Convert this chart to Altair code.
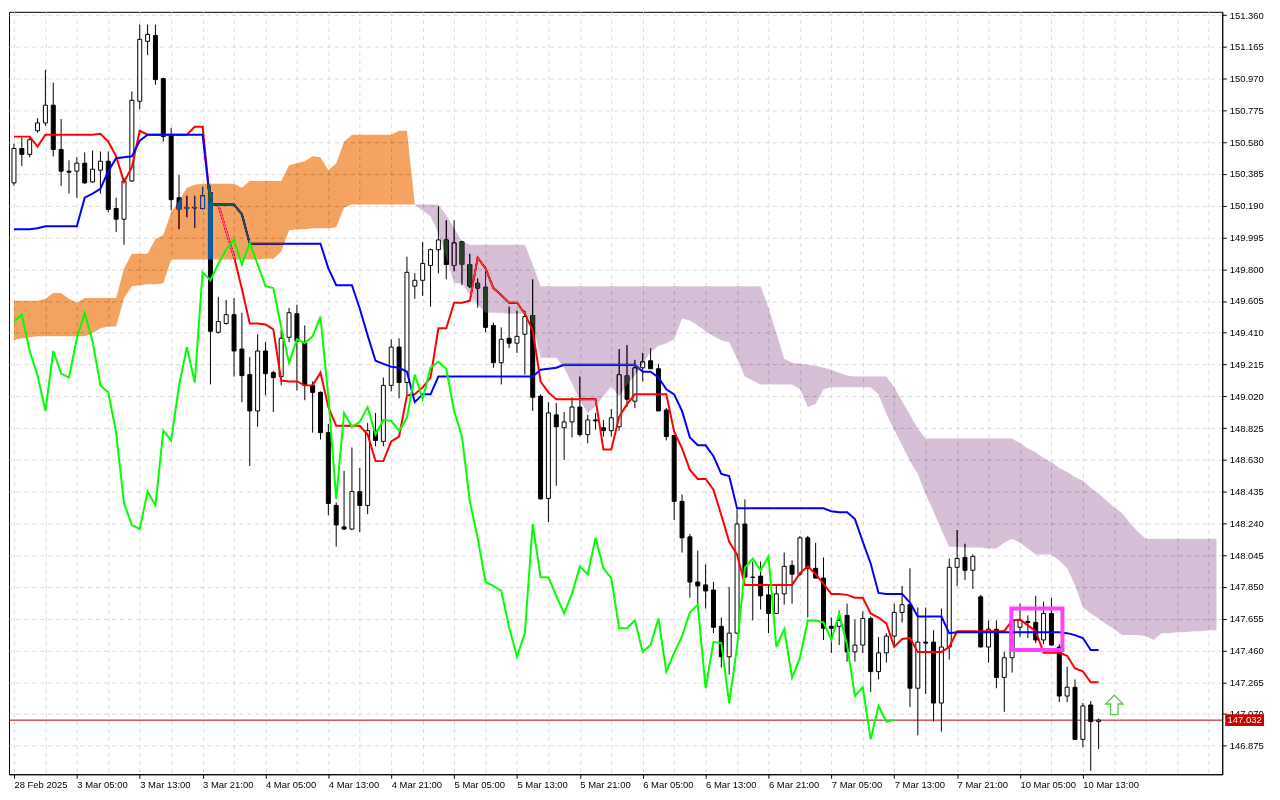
import json
import altair as alt
import pandas as pd

# ---------------- data ----------------
time_labels = ["28 Feb 2025", "3 Mar 05:00", "3 Mar 13:00", "3 Mar 21:00", "4 Mar 05:00",
               "4 Mar 13:00", "4 Mar 21:00", "5 Mar 05:00", "5 Mar 13:00", "5 Mar 21:00",
               "6 Mar 05:00", "6 Mar 13:00", "6 Mar 21:00", "7 Mar 05:00", "7 Mar 13:00",
               "7 Mar 21:00", "10 Mar 05:00", "10 Mar 13:00"]

price_ticks = [146.875, 147.070, 147.265, 147.460, 147.655, 147.850, 148.045, 148.240,
               148.435, 148.630, 148.825, 149.020, 149.215, 149.410, 149.605, 149.800,
               149.995, 150.190, 150.385, 150.580, 150.775, 150.970, 151.165, 151.360]

opens = [150.330,150.541,150.505,150.650,150.698,150.807,150.535,150.402,150.402,150.451,
 150.336,150.408,150.463,150.173,150.107,150.342,150.831,151.199,151.235,150.970,
 150.626,150.239,150.179,150.179,150.173,150.270,149.413,149.467,149.521,149.310,
 149.153,148.930,149.298,149.165,149.141,149.382,149.527,149.346,149.087,149.044,
 148.797,148.350,148.218,148.205,148.435,148.350,148.809,148.743,149.087,149.322,
 149.105,149.696,149.732,149.823,149.920,149.980,149.823,149.968,149.829,149.714,
 149.690,149.455,149.226,149.376,149.346,149.401,149.515,149.020,148.393,148.906,
 148.827,148.863,148.954,148.785,148.875,148.827,148.809,148.833,149.147,148.990,
 149.195,149.238,149.189,148.936,148.779,148.375,148.157,147.880,147.862,147.831,
 147.608,147.421,147.566,148.236,147.910,147.916,147.801,147.687,147.807,147.982,
 147.928,148.151,147.964,147.904,147.608,147.608,147.675,147.451,147.493,147.656,
 147.330,147.445,147.548,147.693,147.741,147.228,147.511,147.511,147.137,147.481,
 147.970,148.031,147.952,147.789,147.481,147.590,147.294,147.415,147.602,147.638,
 147.632,147.524,147.687,147.481,147.180,147.234,146.914,147.125,147.023]

highs = [150.571,150.608,150.614,150.728,151.024,150.945,150.722,150.469,150.487,150.517,
 150.529,150.523,150.523,150.239,150.360,150.891,151.302,151.302,151.302,150.976,
 150.668,150.378,150.251,150.251,150.306,150.312,149.630,149.612,149.624,149.533,
 149.262,149.401,149.352,149.177,149.425,149.563,149.582,149.455,149.111,149.050,
 148.851,148.368,148.562,148.706,148.580,148.857,148.918,149.135,149.370,149.376,
 149.877,149.775,149.968,149.926,150.185,150.101,150.101,149.974,149.895,149.744,
 149.817,149.473,149.443,149.570,149.545,149.545,149.738,149.032,148.984,148.978,
 148.924,149.014,149.141,148.906,148.918,148.875,148.942,149.310,149.334,149.244,
 149.286,149.316,149.219,148.948,148.785,148.417,148.175,148.073,147.988,147.880,
 147.662,147.850,148.326,148.387,148.006,148.006,147.856,147.862,148.061,148.012,
 148.163,148.163,148.121,148.031,147.662,147.705,147.747,147.650,147.699,147.668,
 147.542,147.566,147.747,147.856,147.964,147.723,147.723,147.584,147.717,148.024,
 148.199,148.115,148.049,147.801,147.644,147.644,147.451,147.650,147.747,147.675,
 147.795,147.759,147.783,147.499,147.361,147.282,147.137,147.149,147.041]

lows = [150.312,150.433,150.487,150.638,150.680,150.493,150.312,150.264,150.239,150.324,
 150.330,150.264,150.149,150.028,149.950,150.335,150.783,151.114,150.933,150.583,
 150.161,150.046,150.119,150.052,150.167,149.093,149.405,149.460,149.141,148.984,
 148.592,148.833,149.026,148.924,149.087,149.352,149.056,148.996,148.797,148.755,
 148.290,148.097,148.199,148.199,148.187,148.296,148.713,148.713,149.050,149.008,
 149.032,149.618,149.636,149.570,149.775,149.738,149.787,149.702,149.684,149.564,
 149.413,149.195,149.093,149.316,149.286,149.153,148.930,148.387,148.248,148.471,
 148.628,148.767,148.773,148.731,148.815,148.773,148.773,148.809,148.954,148.948,
 149.111,149.189,148.930,148.749,148.260,148.061,147.783,147.747,147.717,147.566,
 147.355,147.312,147.560,147.905,147.644,147.711,147.566,147.683,147.741,147.747,
 147.916,147.662,147.904,147.524,147.445,147.493,147.391,147.391,147.445,147.204,
 147.282,147.385,147.493,147.632,147.113,146.938,147.192,147.023,146.962,147.403,
 147.856,147.892,147.837,147.478,147.385,147.228,147.083,147.324,147.542,147.536,
 147.505,147.499,147.487,147.143,147.143,146.910,146.866,146.721,146.854]

closes = [150.541,150.505,150.595,150.698,150.807,150.535,150.402,150.396,150.451,150.330,
 150.414,150.463,150.167,150.107,150.342,150.837,151.211,151.241,150.964,150.614,
 150.227,150.167,150.173,150.176,150.251,149.419,149.479,149.521,149.298,149.147,
 148.930,149.298,149.159,149.135,149.376,149.533,149.358,149.087,149.044,148.797,
 148.362,148.230,148.205,148.435,148.350,148.809,148.749,149.087,149.322,149.105,
 149.781,149.732,149.835,149.920,149.980,149.829,149.962,149.829,149.696,149.684,
 149.443,149.226,149.370,149.346,149.388,149.509,149.014,148.390,148.918,148.833,
 148.863,148.954,148.785,148.875,148.869,148.809,148.888,149.153,149.002,149.195,
 149.232,149.189,148.930,148.773,148.375,148.151,147.880,147.856,147.825,147.602,
 147.421,147.566,148.236,147.910,147.908,147.795,147.687,147.807,147.976,147.928,
 148.151,147.964,147.904,147.596,147.596,147.644,147.451,147.493,147.656,147.330,
 147.445,147.548,147.693,147.741,147.228,147.511,147.505,147.137,147.481,147.970,
 148.024,147.952,148.037,147.481,147.590,147.294,147.415,147.644,147.644,147.632,
 147.524,147.687,147.493,147.180,147.234,146.914,147.119,147.023,147.032]

tenkan = [150.614,150.614,150.614,150.553,150.626,150.626,150.626,150.626,150.626,150.626,
 150.626,150.632,150.583,150.493,150.336,150.426,150.650,150.626,150.626,150.626,
 150.626,150.626,150.626,150.674,150.674,150.197,150.197,150.034,149.877,149.678,
 149.467,149.467,149.461,149.431,149.117,149.111,149.111,149.087,149.087,149.165,
 148.954,148.839,148.839,148.839,148.839,148.785,148.622,148.622,148.743,148.773,
 149.026,149.032,149.075,149.135,149.437,149.437,149.594,149.594,149.606,149.871,
 149.805,149.684,149.642,149.594,149.594,149.527,149.425,149.111,149.044,149.002,
 149.002,149.002,149.002,149.002,149.002,148.694,148.694,148.894,148.972,149.032,
 149.032,149.032,149.032,149.032,148.803,148.700,148.568,148.513,148.513,148.447,
 148.290,148.127,148.049,147.862,147.862,147.862,147.862,147.862,147.862,147.862,
 147.934,147.976,147.928,147.868,147.807,147.807,147.801,147.783,147.783,147.687,
 147.662,147.626,147.481,147.530,147.536,147.451,147.451,147.451,147.451,147.481,
 147.578,147.578,147.578,147.578,147.578,147.578,147.578,147.644,147.650,147.614,
 147.578,147.445,147.445,147.445,147.427,147.349,147.331,147.264,147.264]

kijun = [150.046,150.046,150.046,150.052,150.064,150.064,150.064,150.064,150.064,150.239,
 150.264,150.294,150.402,150.481,150.487,150.493,150.589,150.626,150.626,150.626,
 150.626,150.626,150.626,150.626,150.626,150.197,150.197,150.197,150.197,150.137,
 149.956,149.956,149.956,149.956,149.956,149.956,149.956,149.956,149.956,149.956,
 149.805,149.702,149.702,149.702,149.557,149.394,149.238,149.219,149.201,149.195,
 149.171,148.984,149.032,149.032,149.141,149.141,149.141,149.141,149.141,149.141,
 149.141,149.141,149.141,149.141,149.141,149.141,149.141,149.183,149.189,149.195,
 149.213,149.213,149.213,149.213,149.213,149.213,149.213,149.213,149.213,149.213,
 149.171,149.171,149.135,149.063,149.032,148.930,148.767,148.719,148.719,148.652,
 148.543,148.531,148.332,148.332,148.332,148.332,148.332,148.332,148.332,148.332,
 148.332,148.332,148.332,148.332,148.314,148.308,148.308,148.266,148.127,147.994,
 147.813,147.807,147.807,147.807,147.753,147.668,147.668,147.668,147.668,147.566,
 147.572,147.572,147.572,147.572,147.572,147.572,147.572,147.572,147.572,147.572,
 147.572,147.572,147.572,147.572,147.566,147.554,147.536,147.463,147.463]

# Kumo while Span A is above Span B (sandy brown), bars 0..51
up_kumo_top = [149.606,149.606,149.606,149.606,149.618,149.654,149.654,149.618,149.594,149.624,
 149.624,149.624,149.624,149.624,149.805,149.895,149.895,149.895,149.986,150.010,
 150.149,150.221,150.300,150.318,150.324,150.324,150.324,150.324,150.324,150.300,
 150.342,150.342,150.342,150.342,150.342,150.439,150.451,150.463,150.493,150.487,
 150.408,150.451,150.583,150.626,150.626,150.626,150.626,150.626,150.626,150.650,
 150.650,150.197]
up_kumo_bottom = [149.364,149.376,149.382,149.388,149.388,149.388,149.388,149.388,149.388,149.388,
 149.407,149.437,149.449,149.449,149.624,149.696,149.702,149.708,149.708,149.714,
 149.859,149.859,149.859,149.859,149.859,149.859,149.859,149.859,149.859,149.859,
 149.859,149.859,149.865,149.865,149.907,150.040,150.046,150.046,150.052,150.052,
 150.052,150.058,150.179,150.197,150.197,150.197,150.197,150.197,150.197,150.197,
 150.197,150.197]
up_kumo_start = 0

# Kumo while Span A is below Span B (thistle), bars 51..153
down_kumo_top = [150.197,150.197,150.197,150.197,150.131,150.052,149.974,149.950,149.950,149.950,
 149.950,149.950,149.950,149.950,149.950,149.829,149.696,149.696,149.696,149.696,
 149.696,149.696,149.696,149.696,149.696,149.696,149.696,149.696,149.696,149.696,
 149.696,149.696,149.696,149.696,149.696,149.696,149.696,149.696,149.696,149.696,
 149.696,149.696,149.696,149.696,149.696,149.563,149.407,149.250,149.226,149.219,
 149.213,149.207,149.195,149.183,149.165,149.147,149.141,149.141,149.141,149.141,
 149.141,149.075,148.990,148.906,148.821,148.761,148.761,148.761,148.761,148.761,
 148.761,148.761,148.761,148.761,148.761,148.761,148.761,148.731,148.700,148.676,
 148.640,148.616,148.580,148.556,148.525,148.501,148.459,148.423,148.381,148.338,
 148.302,148.242,148.187,148.145,148.145,148.145,148.145,148.145,148.145,148.145,
 148.145,148.145,148.145]
down_kumo_bottom = [150.197,150.161,150.125,150.022,149.871,149.714,149.714,149.642,149.582,149.533,
 149.533,149.533,149.527,149.527,149.527,149.467,149.256,149.256,149.256,149.195,
 149.099,148.996,148.918,148.960,149.020,149.081,149.020,149.087,149.147,149.219,
 149.292,149.328,149.346,149.370,149.497,149.485,149.455,149.419,149.388,149.364,
 149.352,149.250,149.141,149.117,149.093,149.093,149.093,149.093,149.093,149.063,
 148.954,148.972,149.063,149.075,149.075,149.075,149.075,149.075,149.075,149.032,
 148.912,148.815,148.719,148.622,148.543,148.417,148.314,148.200,148.097,148.097,
 148.091,148.091,148.091,148.085,148.085,148.121,148.145,148.121,148.085,148.049,
 148.049,148.049,148.012,147.964,147.862,147.723,147.687,147.656,147.620,147.590,
 147.554,147.554,147.554,147.548,147.524,147.566,147.566,147.572,147.572,147.578,
 147.578,147.584,147.584]
down_kumo_start = 51

chikou_shift = 26

box_bars = [126.9, 133.4]
box_prices = [147.717, 147.463]
arrow_bar = [140]
arrow_price = [147.125]

# ---------------- tables ----------------
n = len(closes)
candles = pd.DataFrame({"bar": list(range(n)), "open": opens, "high": highs,
                        "low": lows, "close": closes})
candles["fillc"] = ["#ffffff" if c >= o else "#000000" for o, c in zip(opens, closes)]

ten_df = pd.DataFrame({"bar": list(range(len(tenkan))), "v": tenkan})
kij_df = pd.DataFrame({"bar": list(range(len(kijun))), "v": kijun})
chi_df = pd.DataFrame({"bar": list(range(n - chikou_shift)), "v": closes[chikou_shift:]})
up_df = pd.DataFrame({"bar": list(range(up_kumo_start, up_kumo_start + len(up_kumo_top))),
                      "top": up_kumo_top, "bottom": up_kumo_bottom})
dn_df = pd.DataFrame({"bar": list(range(down_kumo_start, down_kumo_start + len(down_kumo_top))),
                      "top": down_kumo_top, "bottom": down_kumo_bottom})
last_df = pd.DataFrame({"price": [closes[-1]]})
box_df = pd.DataFrame({"b1": [box_bars[0]], "b2": [box_bars[1]],
                       "p1": [box_prices[0]], "p2": [box_prices[1]]})
arrow_df = pd.DataFrame({"bar": arrow_bar, "price": arrow_price})

# ---------------- layout ----------------
W, H = 1219, 766
FONT = "Liberation Sans"
GRID = "#d9d9d9"
xscale = alt.Scale(domain=[0, 153.1], nice=False, zero=False)
yscale = alt.Scale(domain=[146.70, 151.38], nice=False, zero=False)

last_lab = 8 * (len(time_labels) - 1)
lab_js = json.dumps(time_labels)
xaxis = alt.Axis(
    values=list(range(0, 153, 4)),
    labelExpr=f"(datum.value % 8 == 0 && datum.value <= {last_lab}) ? {lab_js}[datum.value / 8] : ''",
    grid=True, gridColor=GRID, gridDash=[4, 4], gridWidth=1,
    tickOpacity={"condition": {"test": f"datum.value % 8 != 0 || datum.value > {last_lab}", "value": 0}, "value": 1},
    tickSize=4, tickColor="black", domainColor="black", domainWidth=1,
    labelAlign="left", labelFont=FONT, labelFontSize=9.5, labelColor="black",
    labelPadding=1, labelOverlap=False, labelFlush=False, labelBound=False, title=None)
yaxis = alt.Axis(
    orient="right", values=price_ticks, format=".3f",
    grid=True, gridColor=GRID, gridDash=[4, 4], gridWidth=1,
    tickSize=4, tickColor="black", domainColor="black", domainWidth=1,
    labelFont=FONT, labelFontSize=9.5, labelColor="black", labelPadding=3,
    labelOverlap=False, labelFlush=False, labelBound=False, title=None)


def X(field="bar"):
    return alt.X(f"{field}:Q", scale=xscale, axis=xaxis, title=None)


def Y(field):
    return alt.Y(f"{field}:Q", scale=yscale, axis=yaxis, title=None)


price_line = alt.Chart(last_df).mark_rule(color="#b00000", strokeWidth=1).encode(
    y=Y("price"))

wicks = alt.Chart(candles).mark_rule(color="black", strokeWidth=1).encode(
    x=X(), y=Y("low"), y2="high:Q")

bodies = alt.Chart(candles).mark_bar(orient="vertical", size=4, stroke="black",
                                     strokeWidth=1, opacity=1).encode(
    x=X(), y=Y("open"), y2="close:Q", fill=alt.Fill("fillc:N", scale=None))

ten_line = alt.Chart(ten_df).mark_line(color="#ff0000", strokeWidth=2).encode(x=X(), y=Y("v"))
kij_line = alt.Chart(kij_df).mark_line(color="#0000ff", strokeWidth=2).encode(x=X(), y=Y("v"))

# cloud painted in inverted colours with a "difference" blend: over white it shows
# sandy brown / thistle, and whatever lies beneath is inverted like on the terminal
up_kumo = alt.Chart(up_df).mark_area(orient="vertical", color="#0b5b9f", opacity=1,
                                     blend="difference").encode(
    x=X(), y=Y("top"), y2="bottom:Q")
dn_kumo = alt.Chart(dn_df).mark_area(orient="vertical", color="#274027", opacity=1,
                                     blend="difference").encode(
    x=X(), y=Y("top"), y2="bottom:Q")

chi_line = alt.Chart(chi_df).mark_line(color="#00ff00", strokeWidth=2).encode(x=X(), y=Y("v"))

tag_bg = alt.Chart(last_df).mark_rule(color="#cc0000", strokeWidth=12, strokeCap="butt").encode(
    y=Y("price"), x=alt.value(W + 3), x2=alt.value(W + 42))
tag_txt = alt.Chart(last_df).mark_text(color="white", font=FONT, fontSize=9.5,
                                       align="center", baseline="middle").encode(
    y=Y("price"), x=alt.value(W + 22.5), text=alt.Text("price:Q", format=".3f"))

box = alt.Chart(box_df).mark_rect(fill="transparent", stroke="#ff40ff", strokeWidth=4).encode(
    x=X("b1"), x2="b2:Q", y=Y("p1"), y2="p2:Q")

arrow_path = "M0,-1L0.9,-0.1L0.38,-0.1L0.38,1L-0.38,1L-0.38,-0.1L-0.9,-0.1Z"
arrow = alt.Chart(arrow_df).mark_point(shape=arrow_path, size=380, filled=True, fill="white",
                                       stroke="#55cc44", strokeWidth=1.3, opacity=1).encode(
    x=X(), y=Y("price"))

chart = alt.layer(
    price_line, wicks, bodies, ten_line, kij_line, up_kumo, dn_kumo, chi_line,
    tag_bg, tag_txt, box, arrow
).properties(
    width=W, height=H, padding={"left": 0, "top": 0, "right": 2, "bottom": 0},
    background="white"
).configure_view(stroke="black", strokeWidth=1)

chart.save("out.html", embed_options={"renderer": "svg", "actions": False})
